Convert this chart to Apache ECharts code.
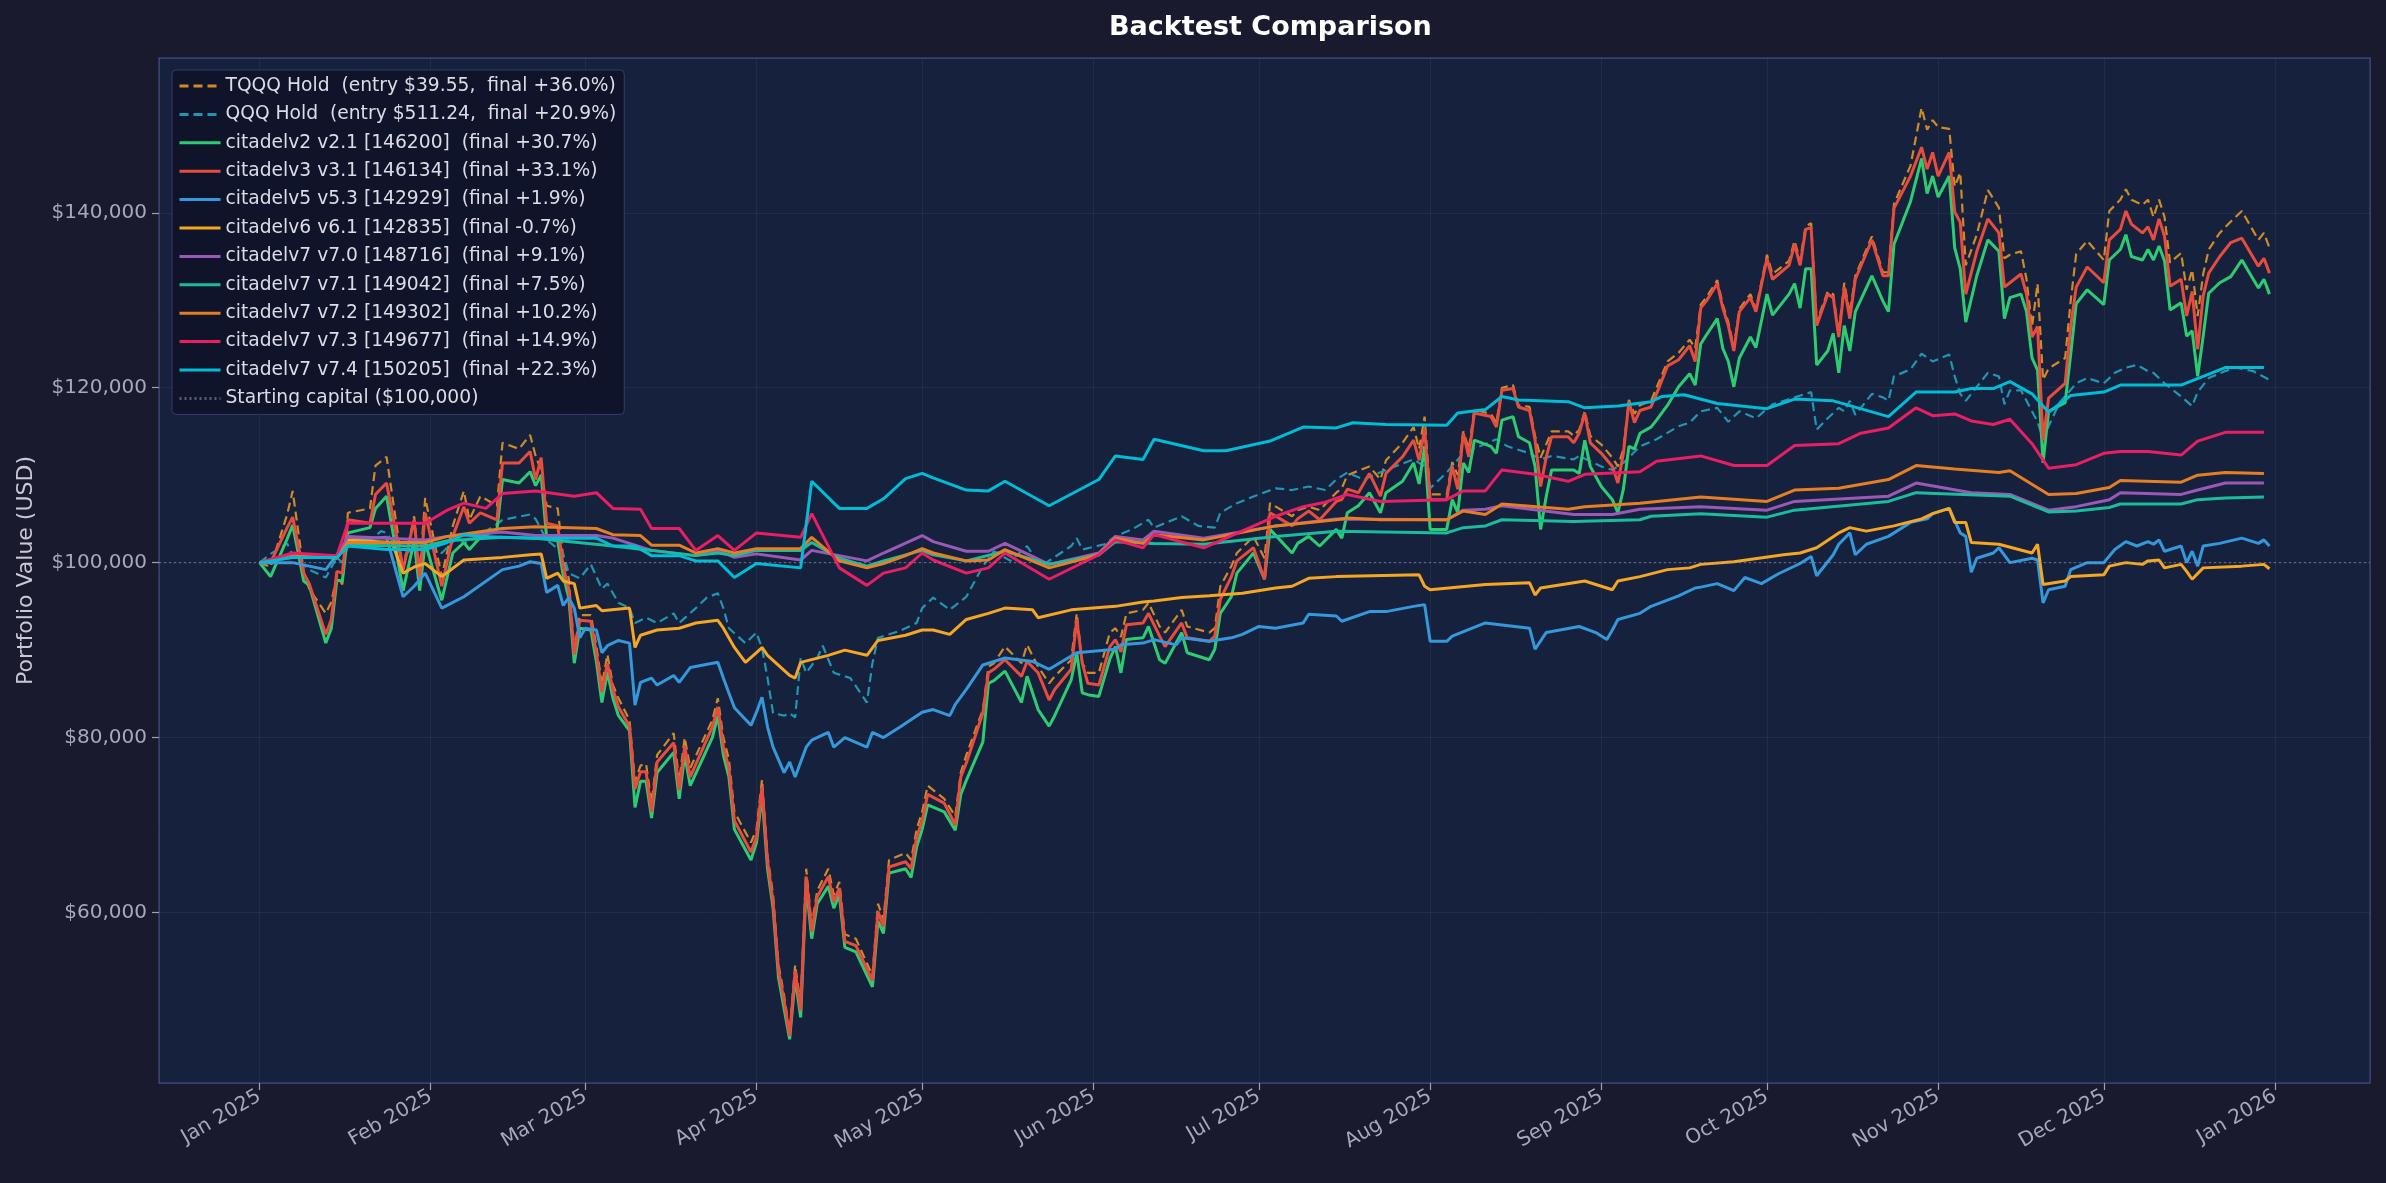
<!DOCTYPE html>
<html>
<head>
<meta charset="utf-8">
<title>Backtest Comparison</title>
<script src="https://cdn.jsdelivr.net/npm/echarts@6/dist/echarts.min.js"></script>
<style>
  html, body { margin: 0; padding: 0; background: #1a1a2e; }
  #chart { width: 2386px; height: 1183px; }
</style>
</head>
<body>
<div id="chart"></div>
<script>
// all dates are 2025, written as month-day
const monthNames = ['Jan', 'Feb', 'Mar', 'Apr', 'May', 'Jun', 'Jul', 'Aug', 'Sep', 'Oct', 'Nov', 'Dec'];

// days shared by TQQQ hold and the two leveraged strategies (v2.1, v3.1)
const trioDays = [
  '01-01','01-03','01-06','01-07','01-09','01-10','01-13','01-14','01-15','01-16','01-17','01-21','01-22','01-24','01-27','01-29','01-30','01-31',
  '02-03','02-05','02-07','02-08','02-10','02-13','02-14','02-17','02-19','02-20','02-21','02-22','02-24','02-25','02-26','02-27','02-28',
  '03-02','03-03','03-04','03-05','03-06','03-07','03-09','03-10','03-11','03-12','03-13','03-14','03-17','03-18','03-19','03-20','03-24','03-25','03-26','03-27','03-28','03-31',
  '04-01','04-02','04-03','04-04','04-05','04-06','04-07','04-08','04-09','04-10','04-11','04-12','04-14','04-15','04-16','04-17','04-19','04-22','04-23','04-24','04-25','04-28','04-29','04-30',
  '05-01','05-02','05-05','05-07','05-08','05-09','05-12','05-13','05-14','05-16','05-19','05-20','05-22','05-24','05-25','05-28','05-29','05-30','05-31',
  '06-02','06-04','06-05','06-06','06-07','06-10','06-11','06-13','06-14','06-17','06-18','06-22','06-23','06-24','06-26','06-27','06-30',
  '07-02','07-03','07-07','07-08','07-10','07-12','07-15','07-16','07-17','07-19','07-21','07-23','07-24','07-27','07-29','07-30','07-31',
  '08-01','08-04','08-05','08-06','08-07','08-08','08-09','08-12','08-13','08-14','08-16','08-17','08-19','08-20','08-21','08-22','08-23','08-26','08-27','08-28','08-29','08-30',
  '09-01','09-03','09-04','09-05','09-06','09-07','09-08','09-10','09-11','09-13','09-15','09-17','09-18','09-19','09-20','09-22','09-23','09-24','09-25','09-26','09-28','09-29',
  '10-01','10-02','10-05','10-06','10-07','10-08','10-09','10-10','10-12','10-13','10-14','10-15','10-16','10-17','10-20','10-22','10-23','10-24','10-27','10-29','10-30','10-31',
  '11-01','11-03','11-04','11-05','11-06','11-08','11-10','11-12','11-13','11-14','11-16','11-17','11-18','11-19','11-20','11-21','11-24','11-25','11-26','11-28',
  '12-01','12-02','12-04','12-05','12-06','12-08','12-09','12-10','12-11','12-12','12-13','12-15','12-16','12-17','12-18','12-19','12-20','12-22','12-24','12-26','12-29','12-30','12-31'
];

const tqqqValues = [
  100000,99500,105500,108200,99000,97000,94200,95500,98500,97500,105700,106200,111100,112100,99200,105300,98800,107400,
  98400,104200,108200,104900,107600,106500,113700,113000,114600,112200,110500,106500,106200,100500,98200,90000,94000,
  94000,90500,86000,89500,86000,84500,82000,75000,76800,77000,72500,78000,80500,75000,80000,76500,82000,84500,80000,77500,71500,68000,
  69500,75200,66500,62000,54000,50500,46300,54000,49500,65000,58500,62500,65000,62000,63500,57500,57000,52800,61000,59200,66000,66800,66000,69500,
  71500,74500,73000,71000,76000,78000,83200,88100,88500,90400,88500,90600,88100,86200,87000,88900,94200,88500,87400,
  87400,92000,92500,91500,94200,94600,95400,92700,92000,94600,92700,92000,92500,97300,99600,101100,103000,
  100500,106800,105300,106000,106400,106000,108000,108500,110000,110500,111000,109500,111700,113700,115500,113000,116700,
  107800,107800,111500,110000,115000,113000,117500,117000,116000,120000,120300,118000,117800,114500,112000,113500,115000,115000,114500,115200,117300,114500,
  113500,112000,111000,113000,118600,117000,118000,118500,120000,123000,124000,125500,124500,129500,130300,132300,129500,127500,124600,129000,130700,129000,
  135200,133000,134500,136800,134500,138500,138800,127500,131000,130700,126200,132000,128500,132800,137300,133200,133200,141000,145400,152000,149500,150600,
  149800,149600,143000,144600,134000,137500,142600,140600,134800,135200,135600,132400,127000,131900,120900,122200,123400,129900,135300,136800,
  134600,140200,141500,142700,141500,140900,141500,139500,141500,139500,134300,135400,131200,133500,128200,133000,135800,137700,139000,140200,136900,137700,136000
];

const v3Values = [
  100000,100000,104000,105200,98800,97600,91800,93500,99000,98800,104900,104500,107800,109100,99200,104900,98200,105700,
  97300,103000,106400,104500,105700,104900,111400,111400,112700,109500,112000,104500,104200,99500,97000,89500,93400,
  93300,89700,85200,88500,85500,83500,81300,74100,76100,76100,71500,77200,79400,74000,79000,75500,81200,83500,79000,76500,70500,66900,
  68600,74400,65800,61200,53300,49900,45900,53300,48800,64100,57800,61800,64100,61200,62800,56700,56200,52200,60100,58400,65200,65800,65000,68600,
  70500,73500,72500,70000,75500,77100,82800,87400,87800,88900,87000,88700,87400,84300,85500,87800,93500,88500,86200,
  86000,90400,91200,89800,92900,93100,94200,91600,90400,93100,91400,91000,91600,95800,98400,100200,101700,
  98100,105700,104200,105000,105900,104900,107000,107200,108400,108000,110200,107600,110200,112100,114000,111700,115200,
  107200,107200,111000,108400,114800,112100,117100,116700,115500,119700,119900,117800,117400,114000,108700,112000,114400,114400,113700,114800,117100,113700,
  112500,111000,109100,112500,118400,116000,117400,117800,119300,122500,123200,124800,123000,129100,129900,131900,129100,127100,124200,128700,130300,128700,
  134800,132400,134000,136400,134000,138100,138300,127100,130700,130300,125800,131500,127900,132400,136900,132800,132800,140500,144200,147500,145000,146900,
  144200,146900,140100,138900,130700,135600,139300,137700,131500,132000,133000,130700,125800,127000,114000,118800,120500,127000,131500,133800,
  132000,136900,138100,140200,138700,137700,138400,136900,139300,137300,131600,132400,128200,131000,124400,130500,133100,135000,136600,137100,133900,134800,133100
];

const v2Values = [
  100000,98400,102700,104300,97900,97400,90800,92500,98000,97900,103400,104000,106200,107600,96800,102500,96800,102300,
  95700,101100,102300,101500,102900,103800,109500,109100,110400,108800,110000,102800,102500,98500,96000,88500,92500,
  92300,88700,84000,87500,84500,82500,80800,72000,75000,75000,70800,76000,78300,73000,78000,74500,80000,82500,78000,75500,69500,66000,
  68000,73500,65000,60500,52500,49000,45500,52500,48000,63200,57000,61000,63000,60500,62000,56000,55500,51500,59000,57600,64500,65000,64000,67500,
  69500,72300,71500,69400,73500,75100,79500,86200,86500,87600,84000,87000,83200,81300,82500,86600,89700,85100,84900,
  84700,89000,90400,87400,91200,91400,92700,88900,88500,92000,89700,88900,90100,94200,96100,98800,101100,
  98100,103800,101100,102200,103000,101900,103800,102800,105700,106500,108000,105700,108000,109300,111400,109000,113300,
  103800,103800,107200,105700,111400,110300,114000,113300,112500,116300,116700,114400,113700,111000,103800,107500,110600,110600,110600,110200,114000,111000,
  108700,107200,105700,108400,113300,113000,114800,115500,116300,118000,120100,121600,120300,125000,126000,127900,124500,123000,120100,123400,125800,124600,
  130700,128300,130700,131900,129100,133600,133600,122600,124200,126200,121700,127100,124200,128700,132800,129900,128700,136400,141300,146200,142200,144200,
  141800,144200,136000,133600,127500,132800,136900,135600,127900,130300,130700,128700,123400,122000,111400,117300,118300,123800,129600,131200,
  129500,134600,135800,137500,135000,134600,135800,134600,136200,134500,128900,129700,125900,126500,121300,125900,130800,132000,132700,134600,131400,132400,130700
];

const qqqHold = [
  ['01-01',100000],['01-03',101000],['01-06',102200],['01-07',100800],['01-10',99200],['01-13',98300],['01-15',100600],['01-16',100000],
  ['01-17',101900],['01-21',102500],['01-23',103600],['01-24',103400],['01-27',100600],['01-29',101900],['01-31',102000],['02-03',101100],
  ['02-06',103000],['02-07',102200],['02-10',103200],['02-13',104400],['02-14',104900],['02-19',105500],['02-20',105000],['02-22',102600],
  ['02-24',101600],['02-25',101000],['02-26',98800],['02-28',98200],['03-02',99800],['03-04',97000],['03-05',97600],['03-07',95400],
  ['03-09',94800],['03-10',93100],['03-12',93700],['03-14',93100],['03-17',94200],['03-18',93100],['03-21',94800],['03-23',96000],
  ['03-25',96500],['03-26',94800],['03-27',92500],['03-30',90800],['04-01',92000],['04-02',90200],['04-03',86800],['04-04',82800],
  ['04-06',82500],['04-07',82800],['04-08',82300],['04-09',89100],['04-10',87400],['04-12',89100],['04-13',90500],['04-15',87400],
  ['04-18',86800],['04-21',84000],['04-22',88500],['04-23',91400],['04-27',92200],['04-30',93100],['05-01',94800],['05-03',96000],
  ['05-06',94600],['05-09',96100],['05-12',99600],['05-14',101300],['05-17',100200],['05-20',101900],['05-22',100000],['05-23',99800],
  ['05-28',101900],['05-29',102800],['05-30',101500],['06-03',102100],['06-05',103000],['06-08',103800],['06-11',104900],['06-12',104000],
  ['06-17',105300],['06-20',104200],['06-23',104000],['06-24',105700],['06-27',106800],['07-01',107800],['07-04',108500],['07-07',108300],
  ['07-10',108700],['07-13',108300],['07-15',109500],['07-17',110300],['07-20',109500],['07-24',110600],['07-29',111800],['07-31',111000],
  ['08-01',108500],['08-04',110300],['08-07',112500],['08-10',113300],['08-13',114100],['08-15',113300],['08-19',112500],['08-21',111800],
  ['08-23',112200],['08-27',111800],['08-28',112200],['09-01',111000],['09-03',110600],['09-05',111400],['09-08',113300],['09-11',114100],
  ['09-15',115600],['09-17',116000],['09-19',117300],['09-22',117700],['09-24',116100],['09-26',117300],['09-29',116500],['10-02',118100],
  ['10-06',118900],['10-09',119500],['10-10',115200],['10-12',116500],['10-14',117700],['10-15',117300],['10-16',118500],['10-17',116900],
  ['10-18',117700],['10-20',119300],['10-22',118900],['10-23',118500],['10-24',121300],['10-27',122100],['10-29',123900],['10-31',123000],
  ['11-03',123800],['11-04',121300],['11-05',119300],['11-06',118500],['11-08',120100],['11-10',121700],['11-12',121300],['11-13',118100],
  ['11-14',119700],['11-16',119700],['11-18',117300],['11-19',116100],['11-20',114100],['11-21',115600],['11-23',118300],['11-26',120500],
  ['11-28',121100],['12-01',120500],['12-03',121700],['12-05',122300],['12-07',122600],['12-09',121900],['12-10',121700],['12-12',120500],
  ['12-15',119000],['12-17',117900],['12-18',119500],['12-20',121100],['12-23',121900],['12-25',122300],['12-28',121900],['12-31',120900]
];

const v5Values = [
  ['01-01',100000],['01-07',100000],['01-13',99200],['01-17',102600],['01-24',102900],['01-27',96100],['01-29',97300],['01-31',98800],
  ['02-03',94800],['02-07',96100],['02-14',99200],['02-17',99600],['02-19',100100],['02-21',99900],['02-22',96600],['02-24',97400],
  ['02-25',95100],['02-26',96000],['02-27',94800],['02-28',91400],['03-01',92500],['03-03',92300],['03-04',89700],['03-05',90500],
  ['03-07',91100],['03-09',90800],['03-10',83700],['03-11',86300],['03-13',86800],['03-14',86000],['03-17',87100],['03-18',86300],
  ['03-20',88000],['03-25',88600],['03-26',86800],['03-27',85100],['03-28',83400],['03-31',81400],['04-01',82900],['04-02',84600],
  ['04-03',81200],['04-04',78900],['04-06',76000],['04-07',77200],['04-08',75500],['04-10',78900],['04-11',79700],['04-14',80600],
  ['04-15',78900],['04-17',80000],['04-21',78900],['04-22',80600],['04-24',80000],['04-27',81200],['05-01',82900],['05-03',83200],
  ['05-06',82500],['05-07',83800],['05-09',85500],['05-12',88300],['05-14',88700],['05-16',89100],['05-21',88700],['05-24',87800],
  ['05-29',89700],['06-05',90100],['06-06',90600],['06-10',90800],['06-12',91200],['06-16',90600],['06-17',91400],['06-22',91000],
  ['06-26',91400],['06-28',91800],['07-01',92700],['07-04',92500],['07-09',93100],['07-10',94100],['07-15',93900],['07-16',93300],
  ['07-21',94400],['07-24',94400],['07-29',95000],['07-31',95200],['08-01',91000],['08-04',91000],['08-05',91600],['08-11',93100],
  ['08-19',92500],['08-20',90100],['08-22',92000],['08-28',92700],['08-31',92000],['09-02',91200],['09-03',92300],['09-04',93500],
  ['09-08',94200],['09-10',95000],['09-15',96200],['09-18',97100],['09-19',97200],['09-22',97600],['09-25',96800],['09-27',98300],
  ['09-30',97600],['10-03',98700],['10-07',99900],['10-09',100700],['10-10',98500],['10-13',100900],['10-14',102100],['10-16',103400],
  ['10-17',100900],['10-19',102100],['10-23',103000],['10-27',104600],['10-30',105000],['10-31',105600],['11-03',106200],['11-05',103400],
  ['11-06',103000],['11-07',98900],['11-08',100500],['11-11',101100],['11-12',101700],['11-14',100000],['11-18',100500],['11-19',100300],
  ['11-20',95400],['11-21',96900],['11-24',97300],['11-25',99200],['11-28',100000],['12-01',100000],['12-03',101500],['12-05',102400],
  ['12-07',101900],['12-09',102400],['12-10',102100],['12-11',102600],['12-12',101300],['12-15',101900],['12-16',100000],['12-17',101300],
  ['12-18',99600],['12-19',101900],['12-22',102200],['12-26',102800],['12-29',102200],['12-30',102600],['12-31',101900]
];

const v6Values = [
  ['01-01',100000],['01-07',101000],['01-15',100500],['01-17',102600],['01-25',102300],['01-27',98800],['01-29',99500],['01-31',99900],
  ['02-03',98400],['02-07',100300],['02-14',100600],['02-19',100900],['02-21',101000],['02-22',98200],['02-24',98800],['02-25',97900],
  ['02-27',97600],['02-28',94800],['03-03',95100],['03-04',94500],['03-09',94800],['03-10',90300],['03-11',91700],['03-14',92300],
  ['03-18',92500],['03-21',93100],['03-25',93400],['03-26',92500],['03-28',90300],['03-30',88600],['04-01',89700],['04-02',90300],
  ['04-03',89400],['04-07',87100],['04-08',86800],['04-09',88600],['04-14',89400],['04-17',90000],['04-21',89400],['04-23',91100],
  ['04-28',91700],['05-01',92300],['05-03',92300],['05-06',91800],['05-09',93500],['05-13',94200],['05-16',94800],['05-21',94600],
  ['05-22',93700],['05-28',94600],['06-05',95000],['06-10',95500],['06-12',95600],['06-17',96000],['06-22',96200],['06-28',96500],
  ['07-04',97100],['07-07',97300],['07-10',98200],['07-15',98400],['07-30',98600],['07-31',97300],['08-01',96900],['08-11',97500],
  ['08-19',97700],['08-20',96300],['08-21',97100],['08-27',97700],['08-29',97900],['09-03',96900],['09-04',97900],['09-08',98400],
  ['09-13',99200],['09-17',99400],['09-19',99800],['09-25',100100],['10-04',100900],['10-07',101100],['10-10',101700],['10-14',103400],
  ['10-16',104000],['10-19',103600],['10-24',104200],['10-29',105000],['10-31',105600],['11-03',106200],['11-04',104600],['11-06',104600],
  ['11-07',102300],['11-12',102100],['11-18',101100],['11-19',102100],['11-20',97500],['11-24',97900],['11-25',98400],['12-01',98600],
  ['12-02',99600],['12-05',100000],['12-08',99800],['12-09',100200],['12-11',100300],['12-12',99400],['12-15',99800],['12-16',99000],
  ['12-17',98100],['12-19',99400],['12-26',99600],['12-30',99800],['12-31',99300]
];

const v70Values = [
  ['01-01',100000],['01-07',100800],['01-15',100600],['01-17',103000],['01-31',102600],['02-04',103000],['02-14',103500],['02-20',103100],
  ['03-03',103100],['03-06',102800],['03-13',101400],['03-21',100800],['03-25',101400],['03-28',100600],['04-01',101000],['04-09',100300],
  ['04-11',101400],['04-16',100800],['04-21',100200],['04-24',101100],['05-01',103100],['05-03',102400],['05-09',101300],['05-13',101300],
  ['05-16',102200],['05-24',99800],['06-02',101100],['06-05',103000],['06-10',102600],['06-12',103600],['06-21',102800],['07-04',104200],
  ['07-15',105000],['08-04',104900],['08-07',106000],['08-11',106100],['08-14',106500],['08-27',105500],['09-03',105500],['09-08',106100],
  ['09-19',106400],['10-01',106000],['10-06',107000],['10-23',107600],['10-28',109100],['11-07',108000],['11-14',107800],['11-21',106000],
  ['11-26',106400],['12-02',107200],['12-04',108000],['12-15',107800],['12-18',108300],['12-23',109100],['12-30',109100]
];

const v71Values = [
  ['01-01',100000],['01-07',100600],['01-15',100600],['01-17',102000],['01-31',101900],['02-04',102500],['02-14',102900],['02-20',102800],
  ['03-06',101900],['03-13',101400],['03-21',100800],['03-25',101100],['03-28',100800],['04-01',101400],['04-09',101400],['04-11',102300],
  ['04-16',100500],['04-21',99600],['04-24',100200],['05-01',101400],['05-03',100900],['05-09',100200],['05-16',101300],['05-24',99800],
  ['06-02',100900],['06-05',102400],['06-12',102200],['06-21',102100],['07-04',103000],['07-15',103600],['08-04',103400],['08-07',104000],
  ['08-11',104200],['08-14',104900],['08-27',104700],['09-08',104900],['09-10',105300],['09-19',105600],['10-01',105200],['10-06',106000],
  ['10-23',107000],['10-28',108000],['11-14',107600],['11-21',105800],['11-26',105900],['12-02',106300],['12-04',106700],['12-15',106700],
  ['12-18',107200],['12-23',107400],['12-30',107500]
];

const v72Values = [
  ['01-01',100000],['01-07',101000],['01-15',100600],['01-17',102300],['01-31',102300],['02-04',103000],['02-14',103900],['02-20',104100],
  ['03-03',103900],['03-06',103200],['03-11',103100],['03-13',102000],['03-18',102000],['03-21',101100],['03-25',101600],['03-28',101100],
  ['04-01',101600],['04-09',101600],['04-11',102900],['04-16',100200],['04-21',99400],['04-24',99900],['04-28',100800],['05-01',101600],
  ['05-03',101100],['05-09',100200],['05-13',100300],['05-16',101500],['05-24',99400],['06-02',100900],['06-05',102800],['06-10',102200],
  ['06-12',103200],['06-21',102600],['07-04',104200],['07-15',104900],['07-17',105100],['07-23',104900],['08-04',104900],['08-07',105900],
  ['08-11',105500],['08-14',106700],['08-26',106100],['08-29',106400],['09-08',106800],['09-19',107500],['10-01',107000],['10-06',108300],
  ['10-14',108500],['10-23',109500],['10-28',111100],['11-04',110700],['11-12',110300],['11-14',110500],['11-21',107800],['11-26',107900],
  ['12-02',108600],['12-04',109400],['12-15',109200],['12-18',110000],['12-23',110300],['12-30',110200]
];

const v73Values = [
  ['01-01',100000],['01-07',101100],['01-15',100800],['01-17',104500],['01-31',104500],['02-04',106000],['02-07',106800],['02-11',106200],
  ['02-14',107900],['02-20',108200],['02-27',107600],['03-03',108000],['03-06',106200],['03-11',106100],['03-13',103900],['03-18',103900],
  ['03-21',101400],['03-25',103100],['03-28',101400],['04-01',103400],['04-09',102900],['04-11',105600],['04-16',99400],['04-21',97400],
  ['04-24',98800],['04-28',99400],['05-01',101100],['05-03',100300],['05-09',98800],['05-13',99400],['05-16',101100],['05-24',98100],
  ['06-02',100900],['06-05',102600],['06-10',101700],['06-12',103200],['06-21',101700],['07-04',105300],['07-09',106400],['07-13',106900],
  ['07-17',107800],['07-23',107000],['08-04',107200],['08-07',108200],['08-11',108200],['08-14',110600],['08-20',110100],['08-26',109300],
  ['08-29',110100],['09-08',110400],['09-11',111600],['09-19',112200],['09-25',111100],['10-01',111100],['10-06',113400],['10-14',113600],
  ['10-18',114800],['10-23',115400],['10-28',117700],['10-31',116800],['11-04',117000],['11-07',116200],['11-11',115800],['11-14',116400],
  ['11-18',113600],['11-21',110800],['11-26',111200],['12-01',112500],['12-04',112700],['12-09',112700],['12-15',112300],['12-18',113900],
  ['12-23',114900],['12-30',114900]
];

const v74Values = [
  ['01-01',100000],['01-07',100600],['01-15',100600],['01-17',101900],['01-24',101500],['01-31',101500],['02-04',102300],['02-07',103200],
  ['02-10',103000],['02-14',102900],['02-20',102800],['03-03',102800],['03-06',101900],['03-10',101900],['03-13',100800],['03-18',100800],
  ['03-21',100200],['03-25',100200],['03-28',98300],['04-01',99900],['04-09',99400],['04-11',109300],['04-16',106200],['04-21',106200],
  ['04-24',107300],['04-28',109600],['05-01',110200],['05-03',109700],['05-09',108300],['05-13',108200],['05-16',109300],['05-24',106500],
  ['06-02',109500],['06-05',112200],['06-10',111800],['06-12',114100],['06-21',112800],['06-25',112800],['07-03',113900],['07-09',115500],
  ['07-15',115400],['07-18',116000],['07-24',115800],['08-04',115700],['08-06',117100],['08-11',117500],['08-14',119000],['08-17',118600],
  ['08-26',118400],['08-29',117700],['09-04',117900],['09-10',118400],['09-12',119000],['09-16',119200],['09-22',118200],['10-01',117600],
  ['10-06',118700],['10-13',118500],['10-23',116700],['10-28',119500],['11-04',119500],['11-07',119900],['11-11',119900],['11-14',120700],
  ['11-18',119300],['11-21',117200],['11-25',119100],['12-01',119500],['12-04',120300],['12-15',120300],['12-19',121300],['12-23',122300],
  ['12-30',122300]
];

const startingCapital = 100000;
const axisStart = '2024-12-13 19:00';
const axisEnd = '2026-01-18 05:00';

const withYear = list => list.map(([d, v]) => ['2025-' + d, v]);
const zipDays = values => values.map((v, i) => ['2025-' + trioDays[i], v]);

const fontFamily = 'DejaVu Sans';

function line(name, data, color, extra) {
  return Object.assign({
    name: name,
    type: 'line',
    data: data,
    showSymbol: false,
    symbol: 'none',
    animation: false,
    emphasis: { disabled: true },
    itemStyle: { color: color },
    lineStyle: { color: color, width: 3 }
  }, extra || {});
}

const series = [
  line('TQQQ Hold  (entry $39.55,  final +36.0%)', zipDays(tqqqValues), '#d08a26',
    { lineStyle: { color: '#d08a26', width: 2.2, type: [9, 5] } }),
  line('QQQ Hold  (entry $511.24,  final +20.9%)', withYear(qqqHold), '#2196b0',
    { lineStyle: { color: '#2196b0', width: 2.2, type: [9, 5] } }),
  line('citadelv2 v2.1 [146200]  (final +30.7%)', zipDays(v2Values), '#2ecc71'),
  line('citadelv3 v3.1 [146134]  (final +33.1%)', zipDays(v3Values), '#e74c3c'),
  line('citadelv5 v5.3 [142929]  (final +1.9%)', withYear(v5Values), '#3498db'),
  line('citadelv6 v6.1 [142835]  (final -0.7%)', withYear(v6Values), '#f5a623'),
  line('citadelv7 v7.0 [148716]  (final +9.1%)', withYear(v70Values), '#9b59b6'),
  line('citadelv7 v7.1 [149042]  (final +7.5%)', withYear(v71Values), '#1abc9c'),
  line('citadelv7 v7.2 [149302]  (final +10.2%)', withYear(v72Values), '#e67e22'),
  line('citadelv7 v7.3 [149677]  (final +14.9%)', withYear(v73Values), '#e91e63'),
  line('citadelv7 v7.4 [150205]  (final +22.3%)', withYear(v74Values), '#00bcd4'),
  line('Starting capital ($100,000)', [[axisStart, startingCapital], [axisEnd, startingCapital]], '#8a8aa8',
    { lineStyle: { color: 'rgba(150,150,185,0.55)', width: 1.4, type: [2, 3] } })
];

const chart = echarts.init(document.getElementById('chart'));

chart.setOption({
  backgroundColor: '#1a1a2e',
  textStyle: { fontFamily: fontFamily },
  animation: false,
  title: {
    text: 'Backtest Comparison',
    left: 1104,
    top: 9,
    textStyle: { color: '#ffffff', fontSize: 27, fontWeight: 'bold', fontFamily: fontFamily }
  },
  grid: {
    left: 159,
    top: 58,
    width: 2211,
    height: 1025,
    show: true,
    backgroundColor: '#16213e',
    borderColor: '#393f70',
    borderWidth: 1.5
  },
  legend: {
    orient: 'vertical',
    left: 172,
    top: 70,
    itemWidth: 41,
    itemHeight: 12,
    itemGap: 8.4,
    padding: [6, 8, 6, 6],
    backgroundColor: '#10142b',
    borderColor: '#363c6a',
    borderWidth: 1,
    borderRadius: 4,
    selectedMode: false,
    // hide the marker dot so each key is only a line sample
    itemStyle: { opacity: 0, color: 'rgba(0,0,0,0)', borderWidth: 0 },
    lineStyle: { width: 3 },
    textStyle: { color: '#dcdce6', fontSize: 18.7, lineHeight: 20, fontFamily: fontFamily },
    data: series.map(s => s.name)
  },
  xAxis: {
    type: 'time',
    min: axisStart,
    max: axisEnd,
    splitNumber: 13,
    minInterval: 28 * 86400000,
    maxInterval: 31 * 86400000,
    axisLine: { show: false },
    axisTick: { show: true, length: 7, lineStyle: { color: '#a0a0b4', width: 1.2 } },
    axisLabel: {
      rotate: 30,
      color: '#a8a8bc',
      fontSize: 20,
      margin: 12,
      showMinLabel: false,
      showMaxLabel: false,
      formatter: value => {
        const d = new Date(value);
        return monthNames[d.getMonth()] + ' ' + d.getFullYear();
      }
    },
    splitLine: { show: true, lineStyle: { color: 'rgba(255,255,255,0.05)', width: 1 } }
  },
  yAxis: {
    type: 'value',
    min: 40500,
    max: 157700,
    splitNumber: 6,
    name: 'Portfolio Value (USD)',
    nameLocation: 'middle',
    nameGap: 122,
    nameTextStyle: { color: '#c8c8d8', fontSize: 22, fontFamily: fontFamily },
    axisLine: { show: false },
    axisTick: { show: true, length: 7, lineStyle: { color: '#a0a0b4', width: 1.2 } },
    axisLabel: {
      color: '#a8a8bc',
      fontSize: 20,
      margin: 12,
      showMinLabel: false,
      showMaxLabel: false,
      formatter: v => '$' + v.toLocaleString('en-US')
    },
    splitLine: { show: true, lineStyle: { color: 'rgba(255,255,255,0.05)', width: 1 } }
  },
  series: series
});

window.addEventListener('resize', () => chart.resize());
</script>
</body>
</html>
